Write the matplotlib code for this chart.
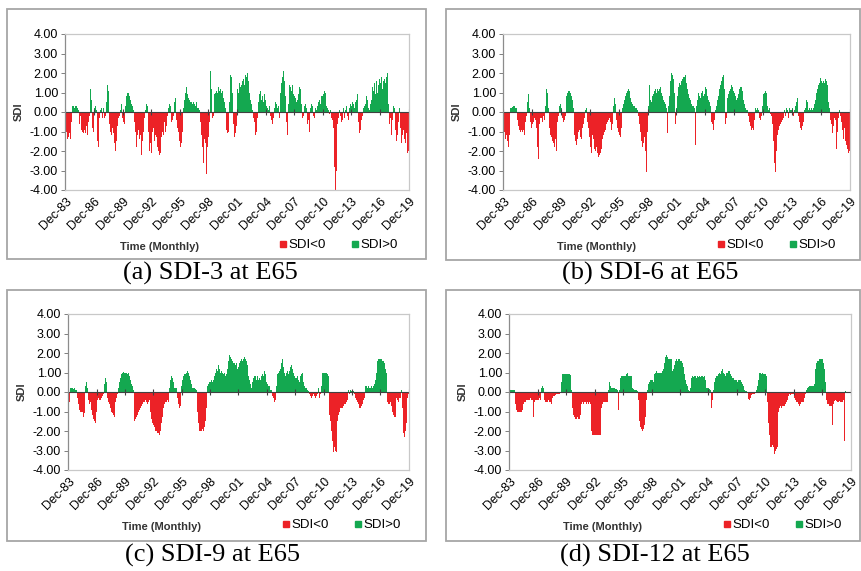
import numpy as np
import pandas as pd
import matplotlib
matplotlib.use('Agg')
import matplotlib.pyplot as plt
from matplotlib.patches import Rectangle
from matplotlib.lines import Line2D
from matplotlib.ticker import FormatStrFormatter

plt.rcParams['font.family'] = ['Liberation Sans', 'DejaVu Sans']

# monthly SDI values, one row per year starting in December (Dec-83 ... Dec-19)
sdi3 = [
    -0.8, -1.0, -1.2, -1.4, -1.3, -1.1, -1.4, -1.2, -0.5, 0.3, 0.3, 0.2,
    0.3, 0.3, 0.3, 0.2, 0.1, -0.3, -0.6, -0.2, -0.9, -1.2, -1.0, -1.1,
    -0.9, -1.1, -1.0, -0.7, -1.2, -0.5, -0.2, 0.9, 1.2, 0.6, -0.8, -1.0,
    -0.4, 0.2, 0.3, 0.1, -1.5, -2.4, -1.8, -0.3, 0.1, 0.2, -0.2, -0.3,
    0.2, -0.3, -0.2, -0.4, 0.5, 1.4, 1.1, 0.3, -0.6, -1.0, -1.2, -0.8,
    -1.3, -1.1, -1.6, -2.0, -1.5, -1.0, -0.7, -0.3, -0.2, 0.1, 0.5, 0.4,
    -0.3, -0.5, -0.6, -0.2, 0.3, 0.8, 1.0, 1.0, 0.9, 0.8, 0.6, 0.4,
    0.3, 0.3, 0.1, -0.5, -1.0, -1.8, -1.6, -1.2, -0.9, -1.4, -1.7, -1.2,
    -2.2, -1.5, -1.0, -0.6, -0.3, 0.1, 0.4, 0.3, -0.2, -1.0, -2.0, -1.6,
    -2.1, -1.4, -1.0, -0.8, -1.5, -1.2, -0.9, -1.3, -1.8, -2.0, -2.2, -1.9,
    -2.1, -1.3, -1.0, -1.2, -0.6, -0.5, -1.0, -0.7, -0.3, -0.2, 0.2, 0.4,
    0.3, -0.3, -0.5, -0.4, -0.2, 0.5, 1.0, 0.7, -0.4, -0.8, -1.0, -1.2,
    -1.5, -1.8, -1.6, -1.0, -0.4, 0.2, 0.6, 1.0, 1.3, 1.1, 0.9, 0.7,
    0.6, 0.5, 0.8, 0.5, 0.4, 0.5, 0.6, 0.4, 0.3, 0.5, 0.2, 0.1,
    0.2, 0.1, -0.5, -1.2, -1.5, -1.8, -2.6, -1.4, -1.6, -2.2, -3.2, -1.8,
    -1.3, -0.5, 0.3, 2.1, 1.2, -0.3, -0.2, 0.6, 0.9, 1.0, 1.1, 1.0,
    1.2, 1.3, 1.1, 1.2, 1.0, 0.8, 1.1, 0.7, 0.5, 0.3, 0.2, -0.9,
    -1.1, -1.0, -0.4, 0.5, 1.9, 1.8, 1.0, 0.3, -0.6, -1.3, -1.1, -0.7,
    0.3, 1.2, 1.0, 1.5, 1.3, 1.1, 1.4, 1.6, 1.7, 1.4, 1.8, 1.9,
    1.8, 2.0, 1.6, 1.2, 1.0, 0.6, 0.4, 0.2, 0.1, -0.3, -0.5, -1.2,
    -1.8, -1.0, -0.3, 0.5, 0.9, 0.7, 1.1, 0.6, 0.8, 0.5, 1.2, 0.9,
    0.6, 0.3, 0.2, -0.1, 0.1, 0.3, -0.2, -0.4, -0.9, -0.6, -0.3, 0.2,
    0.5, 0.7, 0.4, 0.2, 0.3, -0.3, 0.6, 1.0, 1.5, 1.8, 1.9, 2.1,
    1.6, 0.8, -0.5, -1.9, -1.2, 0.4, 1.4, 1.3, 1.2, 1.1, 1.4, 0.9,
    0.8, 1.0, 0.7, 0.5, 0.6, 0.9, 1.1, 1.3, 1.2, 0.4, -0.3, -0.5,
    -0.2, 0.3, 0.4, 0.2, -0.3, -0.6, -0.4, -1.0, -0.8, 0.2, 0.4, 0.3,
    -0.2, -0.4, -0.3, 0.2, 0.1, 0.3, 0.4, 0.5, 0.6, 0.4, 0.8, 0.9,
    0.8, 0.9, 1.1, 1.0, 0.7, 0.3, 0.2, 0.1, -0.1, -0.2, 0.1, -0.3,
    -0.4, -0.8, -1.5, -2.8, -4.0, -3.0, -1.2, -0.6, -0.3, 0.1, -0.2, -0.3,
    -0.5, -0.4, 0.2, -0.3, -0.5, 0.1, 0.3, -0.2, -0.4, -0.6, 0.2, 0.4,
    0.3, 0.5, -0.2, 0.4, 0.2, 0.5, 0.6, 0.8, 0.9, -0.5, -1.1, -0.9,
    -0.6, -0.4, -0.2, 0.2, 0.3, 0.5, 0.4, 0.8, 0.6, 0.3, 0.2, 0.1,
    0.4, 0.6, 1.0, 1.3, 1.1, 1.5, 0.9, 1.2, 1.6, 1.0, 1.4, 1.7,
    1.3, 1.5, 1.8, 1.2, 1.6, 1.4, 1.7, 1.5, 1.8, 2.0, 1.2, 0.4,
    -0.6, -0.3, -1.2, -0.8, -0.4, 0.3, 0.2, -0.3, -0.9, -1.5, -1.2, -0.5,
    0.3, 0.2, -0.8, -1.6, -1.2, -0.5, -0.9, -1.4, -1.6, -1.1, -1.8, -2.1,
    -2.0,
]

sdi6 = [
    -0.5, -1.0, -1.3, -1.4, -1.2, -1.5, -1.8, -2.1, -1.2, 0.2, 0.2, 0.25,
    0.25, 0.3, 0.3, 0.2, 0.2, 0.1, -0.4, -0.7, -0.9, -1.0, -1.3, -0.9,
    -1.0, -0.9, -1.2, -0.8, -0.5, -0.2, 0.5, 0.9, 0.8, 0.2, -0.5, -0.8,
    -0.6, -1.0, -0.5, -0.3, -0.4, -0.8, -1.0, -1.8, -2.4, -0.6, -0.3, -0.5,
    -0.3, -0.5, -0.2, -0.4, -0.1, 0.3, 1.2, 1.0, 0.2, -0.5, -0.8, -1.2,
    -1.3, -1.5, -1.0, -1.6, -1.8, -1.4, -2.0, -1.2, -0.5, -0.2, 0.3, 0.4,
    0.2, 0.1, -0.3, -0.5, -0.4, -0.2, 0.4, 0.8, 1.0, 1.1, 1.1, 1.0,
    1.0, 0.8, 0.6, 0.2, -0.6, -1.2, -1.5, -1.7, -1.4, -1.2, -1.0, -0.9,
    -1.3, -1.4, -1.0, -0.8, -0.6, -0.3, 0.1, 0.3, 0.2, -0.5, -0.8, -1.3,
    -1.5, -1.8, -2.1, -1.2, -1.4, -1.7, -1.9, -2.0, -1.8, -2.1, -2.2, -2.3,
    -2.2, -2.1, -1.9, -1.6, -1.4, -1.2, -1.0, -0.9, -0.7, -0.6, -0.5, -0.4,
    -0.3, -0.2, -0.5, -0.9, -0.6, 0.3, 1.0, 0.7, 0.4, -0.4, -0.8, -1.0,
    -1.0, -1.2, -1.3, -0.8, -0.3, 0.2, 0.4, 0.6, 0.8, 0.9, 1.0, 1.1,
    1.2, 1.1, 0.9, 0.7, 0.5, 0.4, 0.3, 0.4, 0.3, 0.2, 0.2, 0.1,
    0.1, -0.2, -0.6, -1.0, -1.5, -2.6, -1.8, -1.6, -1.3, -2.0, -1.5, -3.1,
    -1.0, 0.3, 1.4, 1.0, 0.6, 0.5, 0.8, 0.9, 1.0, 1.1, 1.2, 1.0,
    1.2, 1.3, 1.1, 1.2, 1.3, 1.0, 0.9, 0.8, 0.6, 0.5, 0.4, 0.3,
    0.2, -1.1, 0.3, 0.8, 1.2, 1.6, 2.0, 1.9, 1.7, 1.5, 1.0, -0.6,
    0.2, 0.8, 1.3, 1.4, 1.5, 1.4, 1.6, 1.7, 1.6, 1.8, 1.8, 1.9,
    1.5, 1.3, 1.2, 0.9, 0.7, 0.6, 0.5, 0.4, 0.3, 0.3, 0.2, 0.1,
    -1.7, 0.3, 0.6, 1.0, 0.9, 0.8, 0.7, 1.0, 1.1, 0.9, 0.8, 0.9,
    1.3, 1.2, 1.0, 0.8, 0.6, 0.5, 0.3, -0.3, -0.5, -0.6, -0.9, -0.4,
    -0.5, 0.1, 0.3, 0.6, 0.8, 1.0, 1.2, 1.4, 1.6, 1.8, 2.0, 1.9,
    1.2, -0.6, -0.3, 0.4, 0.7, 0.9, 1.1, 1.2, 1.3, 1.4, 1.3, 1.1,
    1.0, 0.9, 0.8, 0.6, 0.7, 0.9, 1.0, 1.2, 1.3, 1.3, 1.1, 0.8,
    0.6, 0.4, 0.2, 0.1, 0.1, 0.1, -0.2, -0.5, -0.7, -0.8, -0.9, -0.8,
    -0.9, -0.4, -0.2, 0.2, 0.1, 0.2, 0.1, -0.1, -0.3, -0.4, -0.2, 0.3,
    0.6, 0.9, 1.0, 1.1, 1.0, 0.9, 0.3, 0.1, 0.2, -0.1, 0.1, -0.2,
    -0.6, -1.5, -2.6, -3.2, -3.1, -2.0, -1.2, -0.9, -0.8, -0.7, -0.6, -0.5,
    -0.4, -0.6, -0.3, 0.1, -0.2, 0.2, -0.1, 0.1, -0.3, 0.2, 0.1, -0.2,
    0.1, 0.2, -0.2, 0.1, 0.3, 0.4, 0.5, 0.7, -0.2, -0.5, -0.7, -0.8,
    -0.9, -0.7, -0.5, -0.3, 0.1, 0.2, 0.6, 0.5, 0.3, 0.1, 0.2, 0.1,
    0.2, 0.3, 0.1, 0.2, 0.4, 0.6, 0.8, 1.0, 1.2, 1.4, 1.5, 1.7,
    1.75, 1.6, 1.5, 1.6, 1.4, 1.5, 1.7, 1.6, 1.4, 1.0, 0.5, 0.2,
    -0.4, -0.6, -0.8, -1.1, -0.7, -0.3, -0.4, -1.2, -1.9, -1.0, -0.3, 0.1,
    0.1, -0.2, -0.5, -0.9, -1.4, -1.2, -0.8, -1.5, -1.7, -1.9, -2.0, -2.1,
    -2.0,
]

sdi9 = [
    -0.7, -0.5, 0.1, 0.2, 0.2, 0.2, 0.15, 0.2, 0.2, 0.1, 0.1, -0.2,
    -0.3, -0.6, -0.9, -1.0, -0.9, -1.0, -1.0, -1.3, -1.1, -0.2, 0.3, 0.5,
    0.2, -0.2, -0.4, -0.6, -0.5, -0.9, -1.0, -1.2, -1.4, -1.5, -1.6, -1.7,
    -1.0, -0.4, -0.3, -0.4, -0.3, -0.4, -0.3, -0.2, -0.3, -0.1, 0.4, 0.7,
    0.5, -0.2, -0.3, -0.5, -0.6, -0.8, -0.9, -1.0, -1.1, -1.2, -1.3, -1.3,
    -0.5, -0.3, -0.1, 0.05, 0.2, 0.5, 0.7, 0.9, 1.0, 1.0, 1.05, 1.0,
    1.0, 1.0, 0.95, 0.9, 0.95, 0.9, 0.8, 0.6, 0.4, 0.3, 0.2, 0.1,
    -1.5, -1.4, -1.3, -1.3, -1.2, -1.0, -0.9, -0.8, -0.8, -0.7, -0.6, -0.5,
    -0.5, -0.5, -0.4, -0.5, -0.6, -0.5, -0.5, -0.4, -1.0, -1.2, -1.4, -1.6,
    -1.7, -1.8, -1.9, -2.0, -2.0, -2.1, -2.1, -2.2, -2.2, -2.0, -1.6, -1.3,
    -1.0, -0.8, -0.6, -0.5, -0.5, -0.5, -0.4, -0.5, 0.2, 0.4, 0.6, 0.8,
    0.7, 0.5, 0.3, 0.2, 0.2, 0.2, 0.1, -0.3, -0.6, -0.8, -0.7, -0.3,
    0.3, 0.6, 0.8, 0.9, 0.85, 0.9, 1.0, 1.1, 1.2, 1.0, 0.8, 0.6,
    0.4, 0.3, 0.2, 0.2, 0.2, 0.15, 0.1, 0.1, -1.0, -1.6, -2.0, -2.0,
    -2.0, -2.0, -1.9, -2.0, -2.0, -1.8, -1.5, -0.8, 0.2, 0.3, 0.4, 0.5,
    0.5, 0.4, 0.6, 0.5, 0.6, 0.7, 0.8, 1.0, 1.2, 1.1, 1.3, 1.4,
    1.2, 1.0, 1.1, 0.9, 1.0, 0.9, 1.0, 0.8, 0.7, 0.9, 1.2, 1.6,
    1.9, 1.9, 1.8, 1.7, 1.6, 1.6, 1.5, 1.5, 1.4, 1.5, 1.4, 1.2,
    1.3, 1.5, 1.6, 1.6, 1.7, 1.6, 1.7, 1.7, 1.8, 1.7, 1.6, 1.4,
    1.0, 0.8, 0.6, 0.4, 0.3, 0.2, 0.5, 0.7, 0.8, 0.7, 0.8, 0.6,
    0.8, 0.6, 0.8, 0.7, 0.6, 0.8, 0.9, 0.6, 0.8, 1.1, 0.9, 0.6,
    0.5, 0.4, 0.3, 0.3, 0.2, 0.1, 0.1, -0.2, -0.3, -0.4, -0.5, -0.4,
    0.3, 0.6, 0.9, 1.0, 1.1, 1.2, 1.3, 1.5, 1.7, 1.3, 1.0, 0.9,
    0.8, 1.0, 1.1, 0.9, 1.2, 1.1, 1.3, 1.4, 1.5, 1.2, 1.0, 0.8,
    0.7, 0.6, 0.7, 0.8, 0.6, 0.5, 0.7, 0.8, 0.9, 1.0, 0.7, 0.5,
    0.3, 0.2, 0.2, 0.1, 0.1, 0.05, -0.1, -0.2, -1.6, -0.3, -0.2, -0.1,
    -0.1, -0.2, -0.3, -0.2, -0.1, 0.1, 0.2, -0.3, -0.1, 0.3, 1.1, 1.0,
    1.0, 1.0, 1.0, 0.9, 1.0, 0.9, 0.8, -0.5, -1.2, -1.5, -2.0, -2.5,
    -3.0, -3.1, -2.8, -3.0, -3.1, -2.5, -1.5, -1.2, -1.0, -0.9, -0.8, -0.8,
    -0.8, -0.7, -0.7, -0.6, -0.6, -0.5, -0.4, -0.3, 0.1, -0.1, 0.1, 0.05,
    0.1, -0.1, 0.05, -0.1, -0.2, -0.3, -0.4, -0.5, -0.6, -0.7, -0.8, -0.8,
    -0.7, -0.6, -0.5, -0.4, -0.3, 0.3, 0.2, 0.3, 0.2, 0.3, 0.2, 0.3,
    0.2, 0.3, 0.2, 0.3, 0.2, 0.4, 0.6, 1.0, 1.4, 1.6, 1.7, 1.7,
    1.7, 1.6, 1.7, 1.6, 1.6, 1.5, 1.3, 1.2, 1.0, -0.5, -0.6, -0.7,
    -0.6, -0.5, -0.7, -0.9, -1.0, -1.2, -1.3, -1.3, -0.8, -0.3, -0.4, -0.5,
    -0.3, -0.4, -0.3, 0.1, -0.8, -1.5, -2.1, -2.3, -2.0, -1.6, -0.5, -0.3,
    -0.1,
]

sdi12 = [
    0.1, 0.1, 0.12, 0.1, 0.1, 0.1, 0.08, 0.05, -0.6, -0.9, -1.0, -1.0,
    -1.0, -1.0, -1.0, -1.0, -1.0, -0.9, -0.6, -0.5, -0.5, -0.4, -0.4, -0.4,
    -0.4, -0.4, -0.3, -0.3, -0.4, -0.4, -0.5, -1.3, -0.5, -0.4, -0.4, -0.4,
    -0.4, -0.4, -0.3, -0.4, -0.3, 0.2, 0.3, 0.2, -0.4, -0.4, -0.5, -0.5,
    -0.5, -0.5, -0.4, -0.5, -0.5, -0.6, -1.6, -0.3, -0.2, -0.2, -0.15, -0.1,
    -0.1, -0.1, -0.1, -0.1, -0.05, -0.05, 0.5, 0.9, 0.9, 0.9, 0.9, 0.9,
    0.9, 0.9, 0.9, 0.9, 0.9, 0.85, 0.7, 0.1, -0.8, -1.2, -1.3, -1.4,
    -1.4, -1.4, -1.3, -1.4, -1.4, -1.4, -1.2, -0.6, -0.5, -0.5, -0.6, -0.5,
    -0.5, -0.5, -0.6, -0.5, -0.6, -0.5, -0.6, -0.6, -2.0, -2.2, -2.2, -2.3,
    -2.2, -2.2, -2.2, -2.3, -2.2, -2.2, -2.2, -2.2, -1.5, -0.8, -0.6, -0.5,
    -0.5, -0.5, -0.5, -0.5, -0.5, 0.1, 0.3, 0.5, 0.3, 0.2, 0.2, 0.2,
    0.2, 0.2, 0.15, 0.2, 0.15, 0.1, -0.9, 0.1, 0.6, 0.7, 0.8, 0.8,
    0.8, 0.8, 0.8, 0.8, 0.9, 0.8, 1.0, 0.8, 0.8, 0.8, 0.8, 0.8,
    0.2, 0.15, 0.1, 0.1, 0.1, 0.1, 0.05, -0.4, -1.0, -1.5, -1.8, -1.9,
    -2.0, -2.0, -1.9, -1.7, -1.3, -0.8, -0.4, 0.1, 0.4, 0.5, 0.6, 0.6,
    0.6, 0.6, 0.5, 0.6, 0.9, 1.0, 1.1, 1.1, 1.0, 1.0, 1.0, 1.0,
    1.0, 1.0, 1.1, 1.2, 1.5, 1.7, 1.8, 1.9, 1.8, 1.7, 1.7, 1.7,
    1.7, 1.7, 1.6, 1.1, 1.2, 1.4, 1.6, 1.7, 1.7, 1.6, 1.7, 1.7,
    1.7, 1.6, 1.6, 1.5, 1.3, 1.1, 0.9, 0.6, 0.4, 0.3, 0.2, 0.1,
    0.05, 0.2, 0.5, 0.7, 0.8, 0.75, 0.8, 0.8, 0.8, 0.7, 0.8, 0.75,
    0.8, 0.8, 0.75, 0.8, 0.8, 0.7, 0.75, 0.8, 0.6, 0.2, 0.2, 0.2,
    0.2, 0.15, 0.1, 0.1, -0.8, -0.4, 0.1, 0.2, 0.5, 0.7, 0.8, 0.8,
    0.9, 0.9, 1.0, 0.9, 1.0, 1.1, 1.2, 1.0, 0.9, 1.0, 0.8, 1.0,
    1.0, 1.1, 1.0, 1.1, 0.9, 0.8, 0.7, 0.8, 0.7, 0.6, 0.6, 0.5,
    0.6, 0.5, 0.6, 0.6, 0.5, 0.6, 0.5, 0.4, 0.3, 0.1, 0.1, 0.05,
    0.05, 0.02, -0.4, -0.35, -0.4, -0.3, -0.2, -0.15, -0.1, -0.1, -0.1, -0.05,
    -0.05, 0.1, 0.3, 0.6, 0.9, 0.95, 0.95, 0.9, 0.95, 0.95, 0.9, 0.9,
    0.9, 0.9, 0.8, -0.5, -1.6, -2.2, -2.6, -2.8, -2.8, -2.7, -2.8, -2.9,
    -3.2, -3.0, -2.9, -2.8, -1.5, -1.0, -0.8, -0.7, -0.7, -0.8, -0.7, -0.7,
    -0.7, -0.6, -0.6, -0.5, -0.4, -0.2, -0.1, -0.1, -0.15, -0.1, -0.1, -0.1,
    -0.1, -0.3, -0.4, -0.5, -0.5, -0.5, -0.6, -0.7, -0.6, -0.6, -0.5, -0.5,
    -0.5, -0.4, -0.3, -0.1, 0.1, 0.2, 0.2, 0.25, 0.3, 0.3, 0.3, 0.35,
    0.3, 0.3, 0.4, 0.8, 1.2, 1.5, 1.6, 1.6, 1.7, 1.7, 1.7, 1.7,
    1.7, 1.6, 1.5, 1.2, 0.5, -0.4, -0.5, -0.6, -0.6, -0.7, -0.7, -0.7,
    -0.7, -1.7, -0.6, -0.5, -0.45, -0.4, -0.45, -0.5, -0.45, -0.5, -0.45, -0.5,
    -0.5, -0.5, -0.5, -0.4, -2.5, -0.1, 0.05, 0.0, 0.0, 0.0, 0.0, 0.0,
    0.0,
]

titles = ['(a) SDI-3 at E65', '(b) SDI-6 at E65', '(c) SDI-9 at E65', '(d) SDI-12 at E65']
series = [sdi3, sdi6, sdi9, sdi12]

months = pd.date_range('1983-12-01', periods=len(sdi3), freq='MS')
tick_idx = np.arange(0, len(months), 36)
tick_labels = [months[i].strftime('%b-%y') for i in tick_idx]

RED = '#ec2227'
GREEN = '#14a850'

W, H = 862, 571
fig = plt.figure(figsize=(W / 100, H / 100), dpi=100)


def rect(x0, y0, x1, y1):
    # pixel box (origin top-left) -> figure fraction [l, b, w, h]
    return [x0 / W, 1 - y1 / H, (x1 - x0) / W, (y1 - y0) / H]


# plot area, outer frame, caption centre (pixels)
layout = [
    ((65, 34, 409, 190), (7, 9, 426, 259), (210, 273)),
    ((503, 34, 850, 190), (446, 9, 860, 260), (650, 273)),
    ((68, 314, 409, 470), (7, 290, 426, 541), (213, 555)),
    ((509, 314, 851, 470), (446, 290, 860, 541), (655, 555)),
]

for vals, title, (plot, frame, cap) in zip(series, titles, layout):
    l, b, w, h = rect(*frame)
    fig.add_artist(Rectangle((l, b), w, h, transform=fig.transFigure,
                             fill=False, edgecolor='#a6a6a6', lw=1.3))

    ax = fig.add_axes(rect(*plot))
    vals = np.array(vals)
    x = np.arange(len(vals))
    colors = np.where(vals < 0, RED, GREEN)
    ax.bar(x, vals, width=1.0, color=colors, linewidth=0)
    ax.axhline(0, color='#404040', lw=0.8)
    ax.plot(tick_idx, np.zeros(len(tick_idx)), ls='none', marker='|',
            ms=4, mew=0.8, color='#404040')

    ax.set_xlim(-0.5, len(vals) - 0.5)
    ax.set_ylim(-4, 4)
    ax.set_yticks(np.arange(-4, 5, 1))
    ax.yaxis.set_major_formatter(FormatStrFormatter('%.2f'))
    ax.set_xticks(tick_idx)
    ax.set_xticklabels(tick_labels, rotation=45, ha='right', rotation_mode='anchor')
    ax.tick_params(axis='x', length=0, pad=4, labelsize=9)
    ax.tick_params(axis='y', length=3, width=0.7, color='#7f7f7f', labelsize=9, pad=2)
    for s in ax.spines.values():
        s.set_color('#c8c8c8')
        s.set_linewidth(0.9)
    ax.spines['left'].set_color('#8c8c8c')

    px0, py0, px1, py1 = plot
    fig.text((px0 - 46) / W, 1 - (py0 + py1) / 2 / H, 'SDI', rotation=90,
             ha='center', va='center', fontsize=8, fontweight='bold', color='#333333')
    fig.text((px0 + 94) / W, 1 - (py1 + 57) / H, 'Time (Monthly)',
             ha='center', va='center', fontsize=8, fontweight='bold', color='#333333')

    handles = [Line2D([], [], ls='none', marker='s', ms=4, color=RED),
               Line2D([], [], ls='none', marker='s', ms=4, color=GREEN)]
    fig.legend(handles, ['SDI<0', 'SDI>0'], loc='center',
               bbox_to_anchor=((px0 + 274) / W, 1 - (py1 + 55) / H),
               ncol=2, frameon=False, fontsize=9.5, handlelength=0.5,
               handletextpad=0.15, columnspacing=2.0, borderpad=0)

    fig.text(cap[0] / W, 1 - cap[1] / H, title, ha='center', va='center',
             fontsize=19, family=['Liberation Serif', 'DejaVu Serif'])

fig.savefig('out.png', dpi=100)
